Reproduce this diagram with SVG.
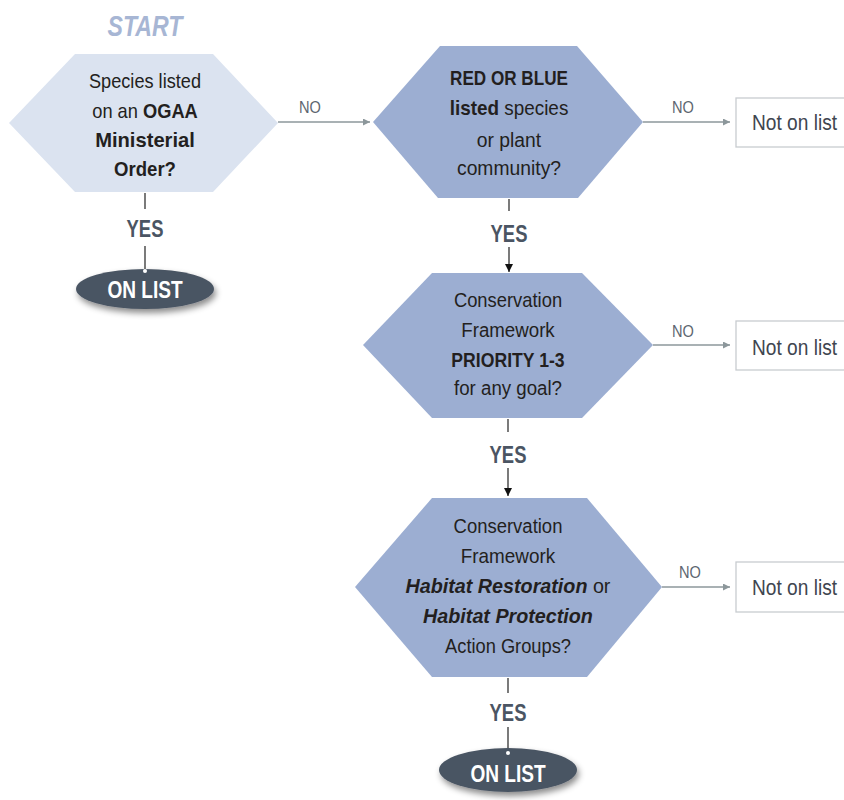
<svg xmlns="http://www.w3.org/2000/svg" width="844" height="800" viewBox="0 0 844 800">
<defs>
<style>
text{font-family:"Liberation Sans",Arial,sans-serif;}
.q{font-size:21px;fill:#231f20;text-anchor:middle;}
.b{font-weight:bold;}
.bi{font-weight:bold;font-style:italic;}
.yes{font-size:23px;font-weight:bold;fill:#4b5563;text-anchor:middle;}
.no{font-size:17px;fill:#5d6670;text-anchor:middle;}
.nol{font-size:22px;fill:#3f4650;}
.box{fill:#fff;stroke:#c8ccd0;stroke-width:1.3;}
.hexL{fill:#dbe3f0;}
.hexD{fill:#9caed2;}
.oval{fill:#4a5563;}
.ovt{font-size:23px;font-weight:bold;fill:#fff;text-anchor:middle;}
.gl{stroke:#8c979b;stroke-width:1.3;fill:none;}
.kl{stroke:#333;stroke-width:1.3;fill:none;}
</style>
<marker id="ag" viewBox="0 0 10 10" refX="10" refY="5" markerWidth="13" markerHeight="7" markerUnits="userSpaceOnUse" orient="auto"><path d="M0,0 L10,5 L0,10 Z" fill="#8c979b"/></marker>
<marker id="ak" viewBox="0 0 10 10" refX="10" refY="5" markerWidth="13" markerHeight="8" markerUnits="userSpaceOnUse" orient="auto"><path d="M0,0 L10,5 L0,10 Z" fill="#111"/></marker>
<filter id="sh" x="-20%" y="-30%" width="140%" height="170%"><feDropShadow dx="2" dy="4" stdDeviation="3" flood-color="#000" flood-opacity="0.45"/></filter>
</defs>

<text transform="translate(145,36) scale(0.77,1)" style="font-size:30px;font-weight:bold;font-style:italic;fill:#a7b6d4;text-anchor:middle;">START</text>

<g id="connectors">
<line class="gl" x1="278" y1="122" x2="370" y2="122" marker-end="url(#ag)"/>
<line class="kl" x1="145" y1="193" x2="145" y2="209"/>
<line class="kl" x1="145" y1="246" x2="145" y2="271"/>
<line class="gl" x1="643" y1="122" x2="730" y2="122" marker-end="url(#ag)"/>
<line class="kl" x1="509" y1="199" x2="509" y2="211"/>
<line class="kl" x1="509" y1="247" x2="509" y2="272" marker-end="url(#ak)"/>
<line class="gl" x1="653" y1="345" x2="730" y2="345" marker-end="url(#ag)"/>
<line class="kl" x1="508" y1="419" x2="508" y2="432"/>
<line class="kl" x1="508" y1="468" x2="508" y2="496" marker-end="url(#ak)"/>
<line class="gl" x1="662" y1="587" x2="730" y2="587" marker-end="url(#ag)"/>
<line class="kl" x1="508" y1="678" x2="508" y2="693"/>
<line class="kl" x1="508" y1="727" x2="508" y2="753"/>
<text class="no" transform="translate(310,113) scale(0.86,1)">NO</text>
<text class="yes" transform="translate(145,237) scale(0.8,1)">YES</text>
<text class="no" transform="translate(683,113) scale(0.86,1)">NO</text>
<text class="yes" transform="translate(509,242) scale(0.8,1)">YES</text>
<text class="no" transform="translate(683,337) scale(0.86,1)">NO</text>
<text class="yes" transform="translate(508,463) scale(0.8,1)">YES</text>
<text class="no" transform="translate(690,578) scale(0.86,1)">NO</text>
<text class="yes" transform="translate(508,721) scale(0.8,1)">YES</text>
</g>

<g id="q1">
<polygon class="hexL" points="9,123 75,54 213,54 278,123 213,192 75,192"/>
<text class="q" transform="translate(145,88) scale(0.865,1)">Species listed</text>
<text class="q" transform="translate(145,118) scale(0.87,1)">on an <tspan class="b">OGAA</tspan></text>
<text class="q b" transform="translate(145,147) scale(0.96,1)">Ministerial</text>
<text class="q b" transform="translate(145,176) scale(0.885,1)">Order?</text>
</g>

<g id="onlist1">
<ellipse class="oval" cx="145" cy="289" rx="69" ry="20" filter="url(#sh)"/>
<text class="ovt" transform="translate(145,298) scale(0.83,1)">ON LIST</text>
<circle cx="145" cy="271" r="2" fill="#fff"/>
</g>

<g id="q2">
<polygon class="hexD" points="373,122 440,46 577,46 643,122 578,198 438,198"/>
<text class="q b" transform="translate(509,85) scale(0.815,1)">RED OR BLUE</text>
<text class="q" transform="translate(509,115) scale(0.9,1)"><tspan class="b">listed</tspan> species</text>
<text class="q" transform="translate(509,147) scale(0.92,1)">or plant</text>
<text class="q" transform="translate(509,175) scale(0.92,1)">community?</text>
</g>

<g id="no1">
<rect class="box" x="736" y="98" width="120" height="49"/>
<text class="nol" transform="translate(752,130) scale(0.87,1)">Not on list</text>
</g>

<g id="q3">
<polygon class="hexD" points="363,345 432,273 582,273 653,345 582,418 432,418"/>
<text class="q" transform="translate(508,307) scale(0.875,1)">Conservation</text>
<text class="q" transform="translate(508,337) scale(0.89,1)">Framework</text>
<text class="q b" transform="translate(508,367) scale(0.84,1)">PRIORITY 1-3</text>
<text class="q" transform="translate(508,395) scale(0.89,1)">for any goal?</text>
</g>

<g id="no2">
<rect class="box" x="736" y="321" width="120" height="49"/>
<text class="nol" transform="translate(752,355) scale(0.87,1)">Not on list</text>
</g>

<g id="q4">
<polygon class="hexD" points="355,587 432,498 587,498 662,587 587,677 432,677"/>
<text class="q" transform="translate(508,533) scale(0.88,1)">Conservation</text>
<text class="q" transform="translate(508,563) scale(0.9,1)">Framework</text>
<text class="q" transform="translate(508,593) scale(0.94,1)"><tspan class="bi">Habitat Restoration</tspan> or</text>
<text class="q bi" transform="translate(508,623) scale(0.94,1)">Habitat Protection</text>
<text class="q" transform="translate(508,653) scale(0.87,1)">Action Groups?</text>
</g>

<g id="no3">
<rect class="box" x="736" y="562" width="120" height="50"/>
<text class="nol" transform="translate(752,595) scale(0.87,1)">Not on list</text>
</g>

<g id="onlist2">
<ellipse class="oval" cx="508" cy="770" rx="69" ry="22" filter="url(#sh)"/>
<text class="ovt" transform="translate(508,782) scale(0.83,1)">ON LIST</text>
<circle cx="508" cy="753" r="2" fill="#fff"/>
</g>
</svg>
